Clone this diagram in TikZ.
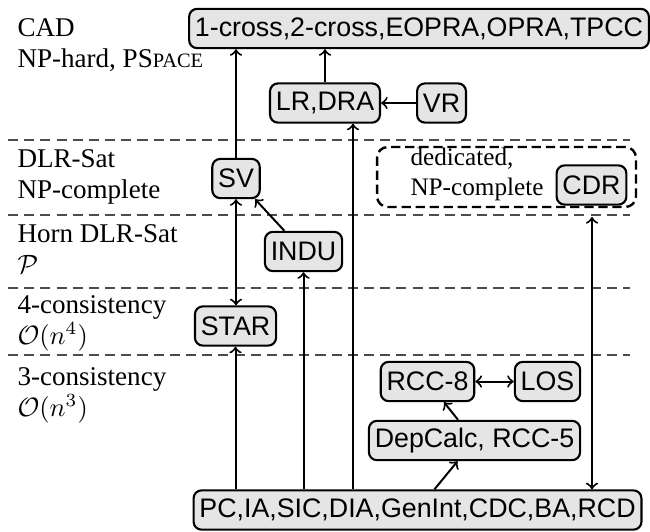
\documentclass[tikz,border=0pt]{standalone}
\usepackage{fontspec}
\setmainfont{Liberation Serif}
\setsansfont{Liberation Sans}
\begin{document}
\begin{tikzpicture}[x=0.377pt,y=-0.377pt,
  cls/.style={draw, line width=0.8pt, rounded corners=3pt, fill=black!10,
    font=\sffamily\fontsize{10.1}{12}\selectfont, minimum height=14.8pt,
    inner xsep=2.2pt, inner ysep=0pt},
  lvl/.style={anchor=base west, align=left, inner sep=0pt,
    font=\fontsize{10.2}{11.5}\selectfont},
  sep/.style={black!70, line width=0.4pt, dash pattern=on 3.8pt off 2.3pt},
  arr/.style={->, line width=0.75pt},
  darr/.style={<->, line width=0.75pt}]
\useasboundingbox (0,0) rectangle (650,531);

% complexity levels
\draw[sep] (8,140) -- (630,140);
\draw[sep] (8,215) -- (630,215);
\draw[sep] (8,288) -- (630,288);
\draw[sep] (8,355) -- (630,355);

% each label is anchored at the baseline of its second line
\node[lvl] (lcad) at (17,67) {CAD\\NP-hard, PS{\fontsize{7.7}{9}\selectfont PACE}};
\node[lvl] (ldlr) at (17,198) {DLR-Sat\\NP-complete};
\node[lvl] (lhorn) at (17,273) {Horn DLR-Sat\\$\mathcal{P}$};
\node[lvl] (lfour) at (17,344) {4-consistency\\$\mathcal{O}(n^4)$};
\node[lvl] (lthree) at (17,416) {3-consistency\\$\mathcal{O}(n^3)$};

% calculi
\node[cls] (top) at (419,28.5) {1-cross,2-cross,EOPRA,OPRA,TPCC};
\node[cls] (lrdra) at (325,103) {LR,DRA};
\node[cls] (vr) at (441.5,103) {VR};
\node[cls] (sv) at (236,178.5) {SV};
\node[cls] (indu) at (303.5,251.5) {INDU};
\node[cls] (star) at (235.5,326) {STAR};
\node[cls] (rcc8) at (427.5,381.5) {RCC-8};
\node[cls] (los) at (547.5,381.5) {LOS};
\node[cls] (dep) at (474.5,440.5) {DepCalc, RCC-5};
\node[cls] (bot) at (417.5,510) {PC,IA,SIC,DIA,GenInt,CDC,BA,RCD};

% dedicated group
\node[draw, line width=0.9pt, dash pattern=on 3.5pt off 1.8pt, rounded corners=4pt,
  minimum width=97.6pt, minimum height=22.6pt, inner sep=0pt] (ded) at (506.5,177) {};
\node[lvl, font=\fontsize{9.5}{11}\selectfont] (dedtxt) at (410,195) {dedicated,\\NP-complete};
\node[cls] (cdr) at (591.5,185) {CDR};

% reductions
\coordinate (lrx) at (353,0);
\coordinate (cdrlow) at (592,217);
\draw[arr] (sv.north) -- (sv.north |- top.south);
\draw[arr] (lrdra.north) -- (lrdra.north |- top.south);
\draw[arr] (vr) -- (lrdra);
\draw[arr] (indu) -- (sv);
\draw[darr] (sv.south) -- (star.north -| sv.south);
\draw[arr] (bot.north -| star) -- (star.south);
\draw[arr] (bot.north -| indu) -- (indu.south);
\draw[arr] (bot.north -| lrx) -- (lrdra.south -| lrx);
\draw[darr] (cdrlow) -- (bot.north -| cdrlow);
\draw[arr] (bot) -- (dep);
\draw[arr] (dep) -- (rcc8);
\draw[darr] (rcc8) -- (los);
\end{tikzpicture}
\end{document}
